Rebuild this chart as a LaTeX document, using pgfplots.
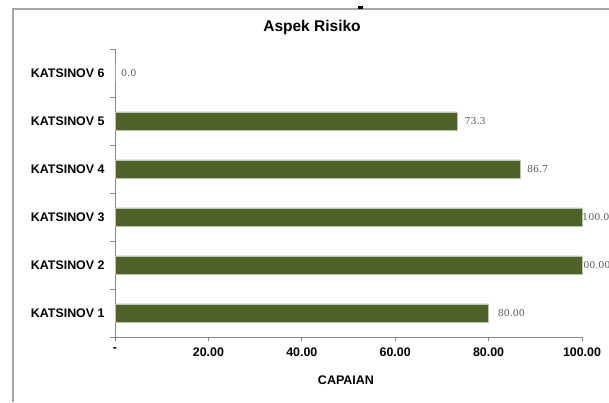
\documentclass[border=0pt]{standalone}
\usepackage{pgfplots}
\pgfplotsset{compat=1.18}
\usepackage{fontspec}
\setmainfont{Liberation Sans}
\newfontfamily\valfont{DejaVu Serif}
\definecolor{barolive}{HTML}{4F6228}
\definecolor{baredge}{HTML}{BCC6AA}
\definecolor{axisgrey}{HTML}{868686}
\definecolor{framegrey}{HTML}{A6A6A6}
\definecolor{valgrey}{HTML}{595959}

\begin{document}
\begin{tikzpicture}
% page area and chart frame
\path[use as bounding box] (0pt,0pt) rectangle (609pt,-402pt);
\draw[framegrey, line width=1.2pt] (13pt,-402pt) -- (13pt,-9pt) -- (609pt,-9pt);
\fill[black] (358pt,-5.5pt) rectangle (363pt,-8.5pt);

\node[font=\bfseries\fontsize{15.5}{18}\selectfont] at (312pt,-27pt) {Aspek Risiko};
\node[font=\bfseries\fontsize{12.5}{15}\selectfont] at (346pt,-380pt) {CAPAIAN};

\begin{axis}[
  at={(115pt,-337pt)}, anchor=south west,
  scale only axis, width=467pt, height=288pt,
  xmin=0, xmax=100, ymin=0.5, ymax=6.5,
  clip=false,
  axis x line*=bottom, axis y line*=left,
  axis line style={axisgrey, line width=1pt},
  tick align=outside,
  major tick length=4pt, minor tick length=5pt,
  every tick/.style={axisgrey, line width=1pt},
  major y tick style={draw=none},
  xtick={0,20,40,60,80,100},
  xticklabels={-,20.00,40.00,60.00,80.00,100.00},
  ytick={1,2,3,4,5,6},
  yticklabels={KATSINOV 1,KATSINOV 2,KATSINOV 3,KATSINOV 4,KATSINOV 5,KATSINOV 6},
  minor ytick={0.5,1.5,2.5,3.5,4.5,5.5,6.5},
  ticklabel style={font=\bfseries\fontsize{12.4}{14}\selectfont, black},
  xticklabel style={yshift=-3pt},
  yticklabel style={xshift=-3pt},
]
\addplot[xbar, bar width=18.5pt, fill=barolive, draw=baredge, line width=0.5pt]
  coordinates {(80,1) (100,2) (100,3) (86.7,4) (73.3,5) (0,6)};

% value labels
\begin{scope}[every node/.style={anchor=west, inner sep=0pt, text=valgrey,
    font=\valfont\fontsize{9.5}{11}\selectfont}]
\node[xshift=9pt] at (axis cs:80,1) {80.00};
\node[xshift=-5pt] at (axis cs:100,2) {100.00};
\node[xshift=0pt] at (axis cs:100,3) {100.0};
\node[xshift=7pt] at (axis cs:86.7,4) {86.7};
\node[xshift=7pt] at (axis cs:73.3,5) {73.3};
\node[xshift=6pt] at (axis cs:0,6) {0.0};
\end{scope}
\end{axis}
\end{tikzpicture}
\end{document}
